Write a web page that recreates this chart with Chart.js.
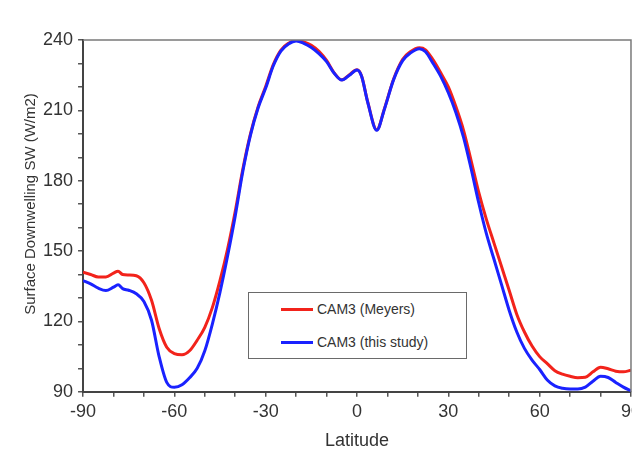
<!DOCTYPE html>
<html>
<head>
<meta charset="utf-8">
<script src="https://cdn.jsdelivr.net/npm/chart.js@4/dist/chart.umd.min.js"></script>
<style>
  html, body { margin: 0; padding: 0; background: #fff; overflow: hidden; }
  #wrap { position: absolute; left: 0; top: 0; width: 645px; height: 462px; }
  #legend { position: absolute; border: 1.5px solid #6a6a6a; background: #fff;
            font-family: "Liberation Sans", Arial, sans-serif; font-size: 14px; color: #333; box-sizing: border-box; }
  .item { position: absolute; left: 0; height: 16px; white-space: nowrap; }
  .swatch { position: absolute; width: 32px; height: 3px; }
  .lab { position: absolute; left: 68px; top: 0; line-height: 16px; }
</style>
</head>
<body>
<div id="wrap"><canvas id="c"></canvas></div>
<div id="legend"></div>
<script>
const latitudes = [-90,-87.5,-85,-82.5,-80,-78.5,-77,-75,-72.5,-70,-67.5,-65,-62.5,-60,-57.5,-55,-52.5,-50,-47.5,-45,-42.5,-40,-37.5,-35,-32.5,-30,-27.5,-25,-22.5,-20,-17.5,-15,-12.5,-10,-7.5,-5,-2.5,0,1.5,3.5,6.5,9,12,15,17.5,20.5,22.5,25,27.5,30,32.5,35,37.5,40,42.5,45,47.5,50,52.5,55,57.5,60,62.5,65,67.5,70,72.5,75,77.5,80,82.5,85,87.5,90];

const meyers = [141,140,139,139,140.6,141.4,140,139.8,139.5,136.5,129,117,109,106.3,105.8,107.5,112,117.5,126,137.5,151,167,185,200,211.5,220.2,229.5,235.7,238.6,239.9,239.2,237.8,235.2,231.3,226,223,225.2,227.3,224.7,213.7,201.7,210.7,223.3,231.8,235,236.7,235.8,231.5,226,220,211.5,201.5,188.5,175,163.5,153.4,143.3,133.2,123,115.5,109.5,105,102,99,97.5,96.6,96,96.2,98.5,100.5,99.8,98.8,98.5,99.2];

const thisStudy = [137.4,136,134.2,133.2,134.6,135.6,134,133.3,131.8,128.5,120.5,105,94,91.9,93,96,100,107.5,119,132.5,148,165,184,199.4,211,219.5,229,235.3,238.3,239.6,238.6,236.8,234.2,230.8,225.8,222.9,225,227.2,224.5,213.5,201.5,210.5,223,231.2,234.4,236.3,235,230,224.5,217.5,209,198.5,185,170.5,157.4,146.5,135.6,124.7,115.5,108.5,103.5,99.5,95,92.5,91.5,91.2,91.2,92,94.5,96.6,96.1,94,92,90.4];

const seriesNames = ["CAM3 (Meyers)", "CAM3 (this study)"];
const seriesColors = ["#f2231b", "#1a22ff"];
const xTickLabels = [-90, -60, -30, 0, 30, 60, 90];
const yTickLabels = [90, 120, 150, 180, 210, 240];
const xTitle = "Latitude";
const yTitle = "Surface Downwelling SW (W/m2)";

const FONT = '"Liberation Sans", Arial, sans-serif';

function pts(vals) { return latitudes.map((x, i) => ({ x: x, y: vals[i] })); }

const frame = {
  id: 'frame',
  afterDraw(chart) {
    const a = chart.chartArea, ctx = chart.ctx;
    ctx.save();
    ctx.strokeStyle = '#7a7a7a';
    ctx.lineWidth = 1.5;
    ctx.beginPath();
    ctx.moveTo(a.left, a.top); ctx.lineTo(a.right, a.top); ctx.lineTo(a.right, a.bottom);
    ctx.stroke();
    // y axis title
    ctx.translate(31, 204);
    ctx.rotate(-Math.PI / 2);
    ctx.fillStyle = '#333';
    ctx.font = '15px ' + FONT;
    ctx.textAlign = 'center';
    ctx.textBaseline = 'middle';
    ctx.fillText(yTitle, 0, 0);
    ctx.restore();
  }
};

const chart = new Chart(document.getElementById('c'), {
  type: 'line',
  data: {
    datasets: [
      { label: seriesNames[0], data: pts(meyers), borderColor: seriesColors[0], borderWidth: 3,
        pointRadius: 0, cubicInterpolationMode: 'monotone', fill: false, order: 2 },
      { label: seriesNames[1], data: pts(thisStudy), borderColor: seriesColors[1], borderWidth: 3,
        pointRadius: 0, cubicInterpolationMode: 'monotone', fill: false, order: 1 }
    ]
  },
  options: {
    responsive: true,
    maintainAspectRatio: false,
    animation: false,
    layout: { padding: { left: 38, top: 40, right: 0, bottom: 10 } },
    plugins: { legend: { display: false }, tooltip: { enabled: false } },
    scales: {
      x: {
        type: 'linear', min: -90, max: 90,
        ticks: {
          stepSize: 10, autoSkip: false, maxRotation: 0, padding: 4,
          color: '#333', font: { family: FONT, size: 18 },
          callback: v => xTickLabels.includes(v) ? String(v) : ''
        },
        grid: { drawOnChartArea: false, drawTicks: true, tickLength: 5, color: '#555', lineWidth: 1.5 },
        border: { display: true, color: '#444', width: 2 },
        title: { display: true, text: xTitle, color: '#333', font: { family: FONT, size: 18 }, padding: { top: 4, bottom: 0 } }
      },
      y: {
        type: 'linear', min: 90, max: 240,
        ticks: {
          stepSize: 10, autoSkip: false, padding: 5,
          color: '#333', font: { family: FONT, size: 18 },
          callback: v => yTickLabels.includes(v) ? String(v) : ''
        },
        grid: { drawOnChartArea: false, drawTicks: true, tickLength: 5, color: '#555', lineWidth: 1.5 },
        border: { display: true, color: '#444', width: 2 },
        title: { display: false }
      }
    }
  },
  plugins: [frame]
});

// legend box built from the datasets
const lg = document.getElementById('legend');
lg.style.left = '248px'; lg.style.top = '292px'; lg.style.width = '219px'; lg.style.height = '67px';
chart.data.datasets.forEach((ds, i) => {
  const it = document.createElement('div');
  it.className = 'item';
  it.style.top = (8 + i * 33) + 'px';
  it.style.width = '100%';
  const sw = document.createElement('div');
  sw.className = 'swatch';
  sw.style.left = '32px'; sw.style.top = '7px';
  sw.style.background = ds.borderColor;
  const tx = document.createElement('div');
  tx.className = 'lab';
  tx.textContent = ds.label;
  it.appendChild(sw); it.appendChild(tx);
  lg.appendChild(it);
});
</script>
</body>
</html>
